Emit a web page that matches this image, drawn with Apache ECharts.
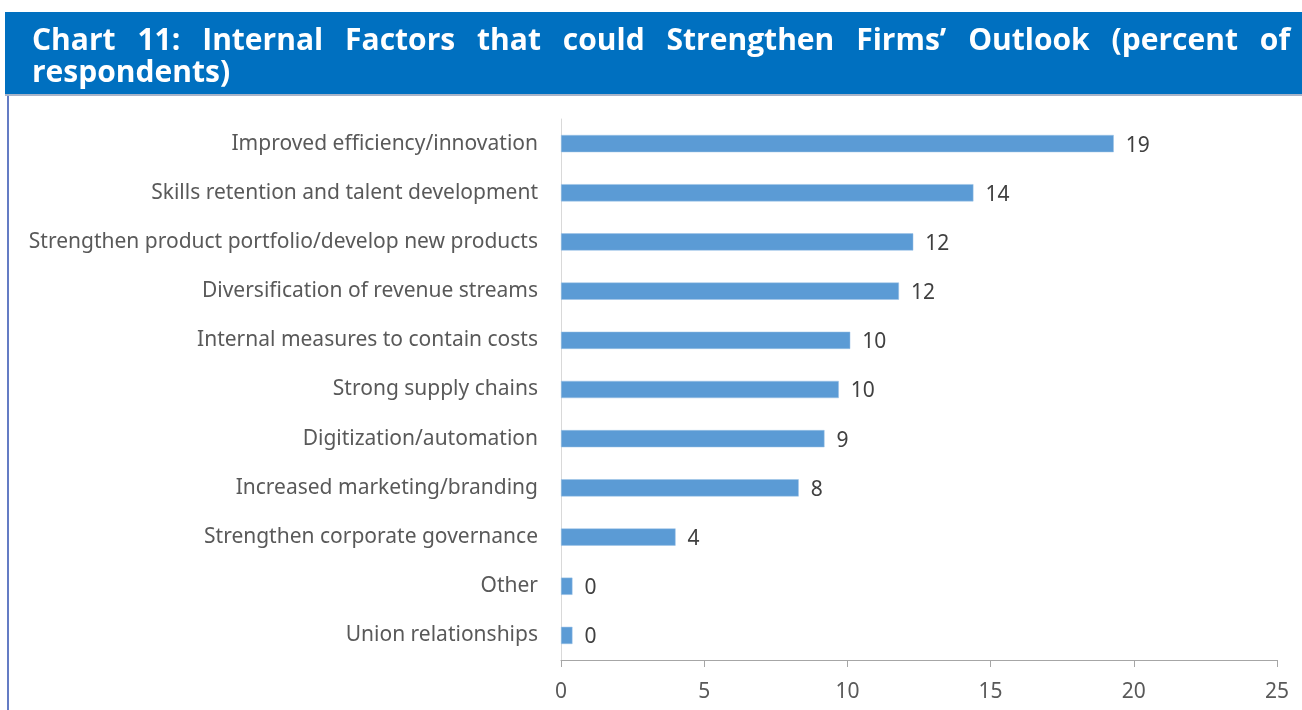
<!DOCTYPE html>
<html>
<head>
<meta charset="utf-8">
<script src="https://cdn.jsdelivr.net/npm/echarts@6/dist/echarts.min.js"></script>
<style>
  html, body { margin: 0; padding: 0; background: #ffffff; }
  #chart { width: 1302px; height: 710px; }
</style>
</head>
<body>
<div id="chart"></div>
<script>
// Internal factors, top to bottom
const categories = [
  'Improved efficiency/innovation',
  'Skills retention and talent development',
  'Strengthen product portfolio/develop new products',
  'Diversification of revenue streams',
  'Internal measures to contain costs',
  'Strong supply chains',
  'Digitization/automation',
  'Increased marketing/branding',
  'Strengthen corporate governance',
  'Other',
  'Union relationships'
];
// Percent of respondents
const shares = [19.3, 14.4, 12.3, 11.8, 10.1, 9.7, 9.2, 8.3, 4.0, 0.4, 0.4];
const axisTicks = [0, 5, 10, 15, 20, 25];

const titleLine1 = 'Chart 11: Internal Factors that could Strengthen Firms\u2019 Outlook (percent of';
const titleLine2 = 'respondents)';

const TITLE_FONT = 'bold 30px "Open Sans"';
const LABEL_FONT = 'Noto Sans';

// Justify the first title line between the left and right text margins
function justifiedWords(text, left, right, y) {
  const ctx = document.createElement('canvas').getContext('2d');
  ctx.font = TITLE_FONT;
  const words = text.split(' ');
  const widths = words.map(w => ctx.measureText(w).width);
  const total = widths.reduce((a, b) => a + b, 0);
  const gap = (right - left - total) / (words.length - 1);
  let x = left;
  return words.map((w, i) => {
    const el = {
      type: 'text', left: x, top: y, silent: true,
      style: { text: w, font: TITLE_FONT, fill: '#ffffff' }
    };
    x += widths[i] + gap;
    return el;
  });
}

const chart = echarts.init(document.getElementById('chart'), null, { renderer: 'canvas' });

chart.setOption({
  backgroundColor: '#ffffff',
  animation: false,
  grid: { left: 561, right: 25, top: 119, bottom: 50, containLabel: false },
  xAxis: {
    type: 'value',
    min: axisTicks[0],
    max: axisTicks[axisTicks.length - 1],
    interval: axisTicks[1] - axisTicks[0],
    splitLine: { show: false },
    axisLine: { show: true, lineStyle: { color: '#a6a6a6', width: 1 } },
    axisTick: { show: true, length: 7, lineStyle: { color: '#a6a6a6' } },
    axisLabel: { margin: 22, fontSize: 21, color: '#595959', fontFamily: LABEL_FONT }
  },
  yAxis: {
    type: 'category',
    data: categories,
    inverse: true,
    axisLine: { show: true, lineStyle: { color: '#d9d9d9', width: 1 } },
    axisTick: { show: false },
    axisLabel: { margin: 23, fontSize: 21, color: '#595959', fontFamily: LABEL_FONT }
  },
  series: [{
    type: 'bar',
    data: shares,
    barCategoryGap: '65%',
    itemStyle: { color: '#5b9bd5', borderColor: '#9cc3e6', borderWidth: 0.5 },
    label: {
      show: true,
      position: 'right',
      distance: 12,
      offset: [0, 2],
      fontSize: 21,
      color: '#404040',
      fontFamily: LABEL_FONT,
      formatter: p => String(Math.round(p.value))
    }
  }],
  graphic: [
    { type: 'rect', shape: { x: 5, y: 12, width: 1297, height: 82 }, style: { fill: '#0070c0' }, silent: true },
    { type: 'rect', shape: { x: 5, y: 94, width: 1297, height: 2 }, style: { fill: '#a9b4c8' }, silent: true },
    { type: 'line', shape: { x1: 8, y1: 96, x2: 8, y2: 710 }, style: { stroke: '#3050b0', lineWidth: 1.5 }, silent: true },
    ...justifiedWords(titleLine1, 32, 1290, 26),
    { type: 'text', left: 32, top: 58, silent: true, style: { text: titleLine2, font: TITLE_FONT, fill: '#ffffff' } }
  ]
});
</script>
</body>
</html>
